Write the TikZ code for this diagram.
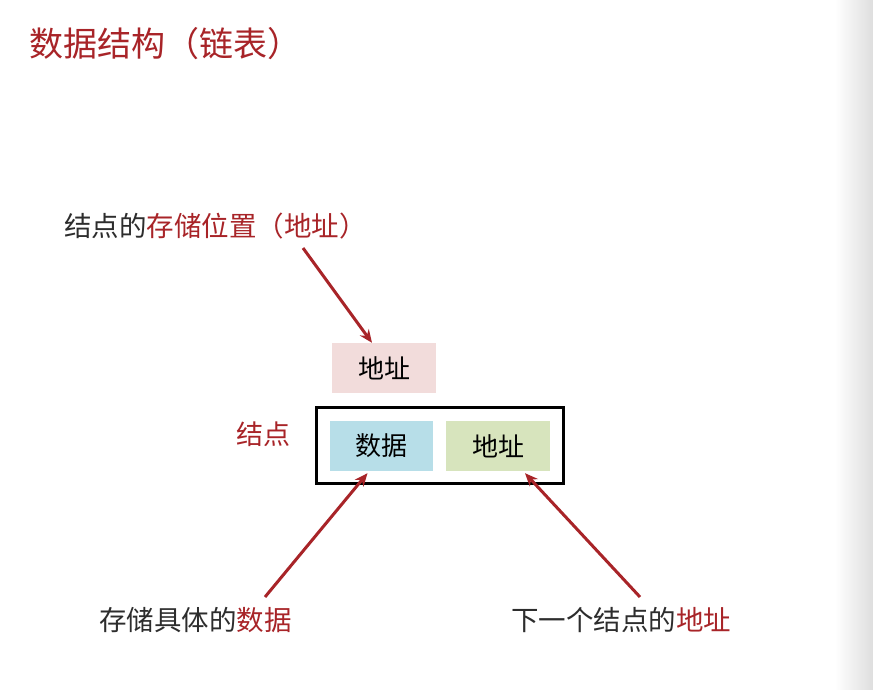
\documentclass[tikz,border=0pt]{standalone}
\usepackage{fontspec}
\newfontfamily\cjk{Noto Sans CJK SC}
\usetikzlibrary{arrows.meta}
\definecolor{myred}{RGB}{168,36,40}
\definecolor{dark}{RGB}{45,45,45}
\definecolor{pinkfill}{RGB}{242,220,219}
\definecolor{bluefill}{RGB}{183,222,232}
\definecolor{greenfill}{RGB}{215,228,189}
\tikzset{
  lbl/.style={font=\cjk\fontsize{27.5}{32}\selectfont, inner sep=0pt, anchor=west},
  cell/.style={font=\cjk\fontsize{26}{30}\selectfont, text=black, inner sep=0pt,
               minimum width=104pt, minimum height=50pt},
  arr/.style={draw=myred, line width=3pt, -{Stealth[length=13pt,width=11pt]}},
}
\begin{document}
\begin{tikzpicture}[x=1pt,y=-1pt]
\useasboundingbox (0,0) rectangle (873,690);
\fill[white] (0,0) rectangle (873,690);
\shade[left color=white, right color=black!13] (835,0) rectangle (873,690);
% title
\node[lbl, anchor=west, font=\cjk\fontsize{34}{40}\selectfont, text=myred] (title) at (29,44) {数据结构（链表）};
% top label
\node[lbl] (toplbl) at (64,226) {\textcolor{dark}{结点的}\textcolor{myred}{存储位置（地址）}};
\coordinate (s1) at (303,248);
% pink address box
\node[cell, fill=pinkfill] (addr) at (384,368) {地址};
% frame
\node[draw=black, line width=3pt, minimum width=247pt, minimum height=76pt, inner sep=0pt] (frame) at (440,445.5) {};
\node[cell, fill=bluefill, minimum width=103pt] (data) at (381.5,446) {数据};
\node[cell, fill=greenfill] (next) at (498,446) {地址};
\node[lbl, text=myred, font=\cjk\fontsize{27}{32}\selectfont] (node) at (236,434) {结点};
% bottom labels
\node[lbl] (datalbl) at (99,620) {\textcolor{dark}{存储具体的}\textcolor{myred}{数据}};
\node[lbl] (nextlbl) at (511,620) {\textcolor{dark}{下一个结点的}\textcolor{myred}{地址}};
\coordinate (s2) at (265,597);
\coordinate (s3) at (640,597);
% arrows
\draw[arr] (s1) -- ([xshift=-12pt]addr.north);
\draw[arr] (s2) -- ([xshift=-14pt,yshift=-2pt]data.south);
\draw[arr] (s3) -- ([xshift=27pt,yshift=-2pt]next.south);
\end{tikzpicture}
\end{document}
